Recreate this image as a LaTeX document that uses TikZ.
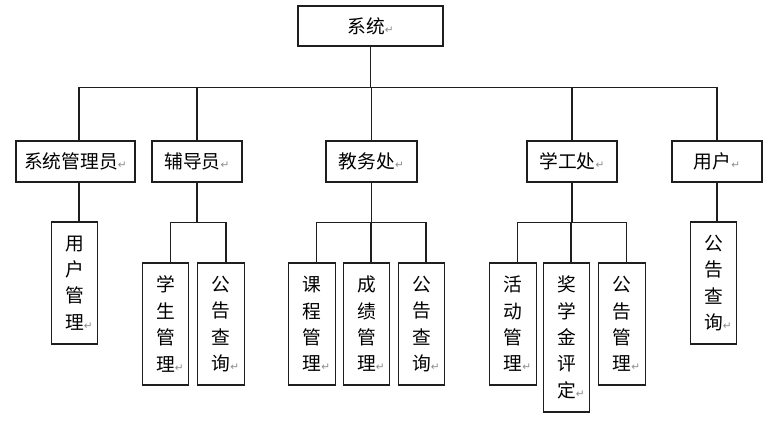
\documentclass[tikz,border=0pt]{standalone}
\usepackage{fontspec}
\setmainfont{Noto Sans CJK SC}
\newfontfamily\symfont{DejaVu Sans}

\definecolor{linecolor}{RGB}{30,30,30}
\definecolor{markcolor}{RGB}{140,140,140}
\newcommand{\retmark}{{\symfont\fontsize{9}{9}\selectfont\color{markcolor}↵}}

\begin{document}
\begin{tikzpicture}[x=0.03cm, y=-0.03cm,
  box/.style={draw=linecolor, line width=0.9pt, inner sep=0pt, font=\fontsize{16}{22.5}\selectfont, align=center},
  wide/.style={box, minimum height=1.23cm},
  tall/.style={box, minimum width=1.4cm, minimum height=3.66cm},
  link/.style={draw=linecolor, line width=0.9pt}]
  \useasboundingbox (0,0) rectangle (768,425);

  % Top node
  \node[box, minimum width=4.35cm, minimum height=1.2cm] (sys) at (370.5,26) {系统\retmark};

  % Second row
  \node[wide, minimum width=3.57cm] (admin) at (75.5,161.5) {系统管理员\retmark};
  \node[wide, minimum width=2.7cm] (tutor) at (197,161.5) {辅导员\retmark};
  \node[wide, minimum width=2.73cm] (acad) at (371.5,161.5) {教务处\retmark};
  \node[wide, minimum width=2.7cm] (stuaff) at (572,161.5) {学工处\retmark};
  \node[wide, minimum width=2.7cm] (user) at (717,161.5) {用户\retmark};

  % Third row
  \node[tall] (umgr) at (74.5,283) {用\\户\\管\\理\rlap{\retmark}};
  \node[tall] (stumgr) at (165.5,324) {学\\生\\管\\理\rlap{\retmark}};
  \node[tall] (tnotice) at (221,324) {公\\告\\查\\询\rlap{\retmark}};
  \node[tall] (course) at (312,324) {课\\程\\管\\理\rlap{\retmark}};
  \node[tall] (score) at (366.5,324) {成\\绩\\管\\理\rlap{\retmark}};
  \node[tall] (anotice) at (421.5,324) {公\\告\\查\\询\rlap{\retmark}};
  \node[tall] (activity) at (513,324) {活\\动\\管\\理\rlap{\retmark}};
  \node[tall, minimum height=4.47cm] (scholar) at (566.5,337.5) {奖\\学\\金\\评\\定\rlap{\retmark}};
  \node[tall] (snotice) at (622,324) {公\\告\\管\\理\rlap{\retmark}};
  \node[tall] (unotice) at (713.5,283) {公\\告\\查\\询\rlap{\retmark}};

  % Top to second row
  \draw[link] (sys.south) -- ++(0,41) coordinate (sysbar);
  \foreach \n/\s in {admin/0.105, tutor/0, acad/0, stuaff/0, user/0}
    \draw[link] (sysbar) -| ([xshift=\s cm]\n.north);

  % Second row to third row
  \draw[link] ([xshift=0.105cm]admin.south) -- ++(0,40);
  \draw[link] (tutor.south) -- ++(0,40) coordinate (tutorbar);
  \foreach \c in {stumgr, tnotice}
    \draw[link] (tutorbar) -| ([xshift=0.15cm]\c.north);
  \draw[link] (acad.south) -- ++(0,40) coordinate (acadbar);
  \foreach \c in {course, score, anotice}
    \draw[link] (acadbar) -| ([xshift=0.135cm]\c.north);
  \draw[link] (stuaff.south) -- ++(0,40) coordinate (stuaffbar);
  \foreach \c in {activity, scholar, snotice}
    \draw[link] (stuaffbar) -| ([xshift=0.135cm]\c.north);
  \draw[link] (user.south) -- ++(0,40);
\end{tikzpicture}
\end{document}
